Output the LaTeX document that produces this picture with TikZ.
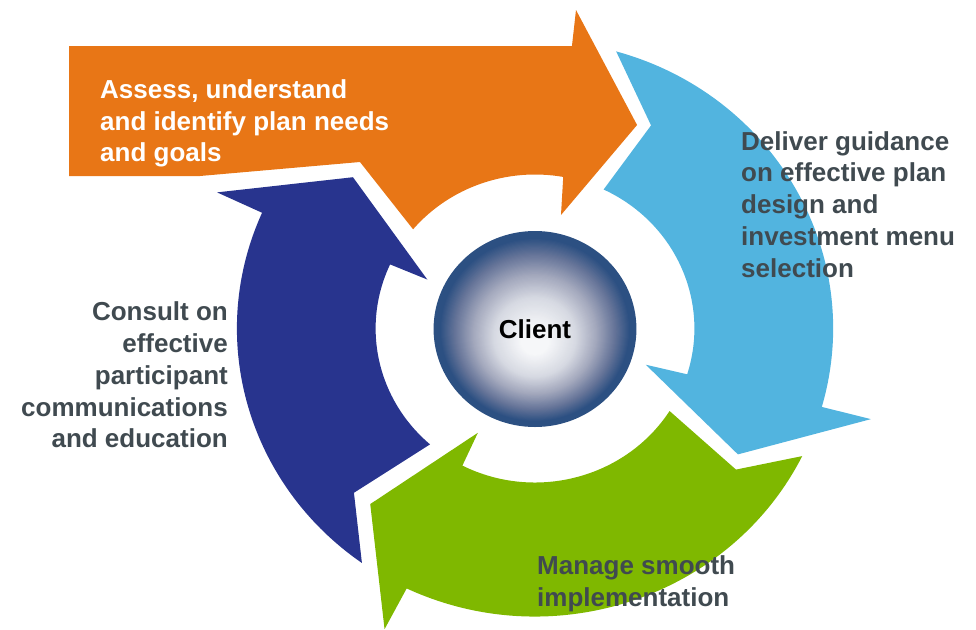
\documentclass[tikz,border=0pt]{standalone}
\usepackage{fontspec}
\setmainfont{Liberation Sans}
\definecolor{cycOrange}{RGB}{232,118,22}
\definecolor{cycBlue}{RGB}{82,180,223}
\definecolor{cycGreen}{RGB}{127,184,0}
\definecolor{cycNavy}{RGB}{40,52,142}
\definecolor{labelGray}{RGB}{64,74,80}
% sphere tones, rim to highlight
\definecolor{ballEdge}{RGB}{44,80,130}
\definecolor{ballDeep}{RGB}{100,115,152}
\definecolor{ballMid}{RGB}{162,167,188}
\definecolor{ballLight}{RGB}{214,217,226}
\definecolor{ballCore}{RGB}{246,247,249}
\tikzset{
  lbl/.style={inner sep=0pt, font=\fontsize{26}{31.7}\selectfont\bfseries},
  darklbl/.style={lbl, text=labelGray},
}
\begin{document}
\begin{tikzpicture}[x=1pt, y=1pt]
\useasboundingbox (0,0) rectangle (976,-629);
\begin{scope}[shift={(535,-328.5)}, xscale=1.035]
  % top block arrow
  \fill[cycOrange] (-450.2,282.5) -- (35.7,282.5) -- (39.6,318.5) -- (98.6,203.5)
    -- (25.1,113.5) -- (79.8:154pt) arc[start angle=79.8, end angle=139.9, radius=154pt]
    -- (-169.1,166.5) -- (-323.7,152.5) -- (-450.2,152.5) -- cycle;
  % right curved arrow
  \fill[cycBlue] (74.2:288pt) arc[start angle=74.2, end angle=-15.8, radius=288pt]
    -- (-15.6:337pt) -- (-32.7:233pt) -- (-18.7:113pt) -- (-17.3:154pt)
    arc[start angle=-17.3, end angle=64.5, radius=154pt] -- (61.1:232pt) -- cycle;
  % bottom curved arrow
  \fill[cycGreen] (-26.3:288pt) arc[start angle=-26.3, end angle=-115.5, radius=288pt]
    -- (-115.8:334pt) -- (-132.2:237pt) -- (-117.9:118pt) -- (-117.1:154pt)
    arc[start angle=-117.1, end angle=-32.4, radius=154pt] -- (-36:240pt) -- cycle;
  % left curved arrow
  \fill[cycNavy] (234.5:288pt) arc[start angle=234.5, end angle=156.3, radius=288pt]
    -- (156.1:336pt) -- (139.3:232pt) -- (154.8:115pt) -- (155.4:154pt)
    arc[start angle=155.4, end angle=228.8, radius=154pt] -- (223.2:240pt) -- cycle;
  % centre sphere: stacked discs, highlight drifting below the middle
  \foreach \ra/\rb/\ca/\cb in {98/92/ballEdge/ballEdge, 92/78/ballEdge/ballDeep,
      78/60/ballDeep/ballMid, 60/40/ballMid/ballLight, 40/14/ballLight/ballCore,
      14/1/ballCore/ballCore} {
    \pgfmathtruncatemacro\rs{\ra-1}
    \foreach \r in {\ra,\rs,...,\rb} {
      \pgfmathtruncatemacro\p{round(100*(\r-\rb)/(\ra-\rb))}
      \pgfmathsetmacro\off{-0.5-14*(1-\r/98)}
      \fill[color=\ca!\p!\cb] (0,\off) circle (\r pt);
    }
  }
\end{scope}
\node[lbl, anchor=center] (client) at (535,-329) {Client};
% multi-line labels: the base anchor sits on the last line
\node[lbl, text=white, anchor=base west, align=left] (assess) at (100,-161.7)
  {Assess, understand\\and identify plan needs\\and goals};
\node[darklbl, anchor=base west, align=left] (deliver) at (741,-277)
  {Deliver guidance\\on effective plan\\design and\\investment menu\\selection};
\node[darklbl, anchor=base east, align=right] (consult) at (228,-447.7)
  {Consult on\\effective\\participant\\communications\\and education};
\node[darklbl, anchor=base west, align=left] (manage) at (537,-606)
  {Manage smooth\\implementation};
\end{tikzpicture}
\end{document}
